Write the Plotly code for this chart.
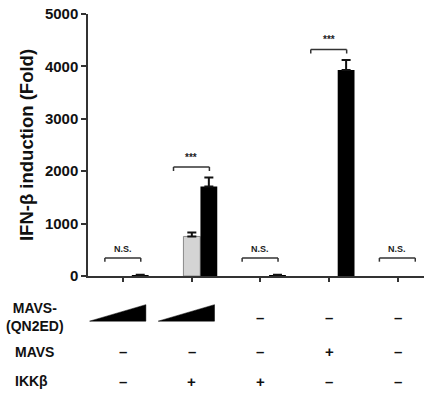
import plotly.graph_objects as go

groups = [0, 1, 2, 3, 4]
gray_vals = [None, 755, None, None, None]
gray_err = [0, 75, 0, 0, 0]
black_vals = [8, 1708, 8, 3932, None]
black_err = [14, 172, 14, 190, 0]
sig_labels = ["N.S.", "***", "N.S.", "***", "N.S."]
mavs_signs = ["–", "–", "–", "+", "–"]
ikk_signs = ["–", "+", "+", "–", "–"]
qn2ed_signs = [None, None, "–", "–", "–"]  # None = wedge
y_ticks = [0, 1000, 2000, 3000, 4000, 5000]

FONT = "Arial, Liberation Sans, Helvetica, sans-serif"
OFF = 0.248
W = 0.245

fig = go.Figure()
fig.add_bar(
    x=groups, y=gray_vals, width=W,
    marker=dict(color="#d4d4d4", line=dict(color="#8a8a8a", width=1)),
    error_y=dict(type="data", symmetric=False, array=gray_err,
                 arrayminus=[0] * 5, color="#111", thickness=2, width=4.5),
    showlegend=False,
)
fig.add_bar(
    x=[g + OFF for g in groups], y=black_vals, width=W,
    marker=dict(color="#000000", line=dict(width=0)),
    error_y=dict(type="data", symmetric=False, array=black_err,
                 arrayminus=[0] * 5, color="#111", thickness=2, width=4.5),
    showlegend=False,
)

shapes = []
annotations = []
for g, lab, gv, ge, bv, be in zip(groups, sig_labels, gray_vals, gray_err,
                                  black_vals, black_err):
    top = max((gv or 0) + ge, (bv or 0) + be)
    yb = 343 if lab == "N.S." else top + 200
    drop = 70 if lab == "N.S." else 76
    x0, x1 = g - 0.267, g + 0.256
    xs = [x0, x0, x1, x1]
    ys = [yb - drop, yb, yb, yb - drop]
    shapes += [
        dict(type="line", xref="x", yref="y", x0=xs[i], x1=xs[i + 1],
             y0=ys[i], y1=ys[i + 1], line=dict(color="#333", width=1.5))
        for i in range(3)
    ]
    annotations.append(dict(
        x=(x0 + x1) / 2, y=yb + 40, xref="x", yref="y", text=lab,
        showarrow=False, yanchor="bottom", xanchor="center",
        font=dict(family=FONT, size=9 if lab == "N.S." else 10,
                  color="#222", weight="bold"),
    ))


def ypx(px):
    return (276.3 - px) / 262.3


def xp(px):
    return (px - 88) / 336


sign_font = dict(family=FONT, size=15, color="#111", weight="bold")


def sign(x, ypix, s):
    return dict(x=x, y=ypx(ypix), xref="x", yref="paper", text=s,
                showarrow=False, xanchor="center", yanchor="middle",
                font=sign_font)


for g, s in zip(groups, qn2ed_signs):
    if s is None:
        shapes.append(dict(
            type="path", xref="x", yref="paper",
            path=(f"M {g - 0.49} {ypx(321.5)} L {g + 0.33} {ypx(321.5)} "
                  f"L {g + 0.33} {ypx(305)} Z"),
            fillcolor="#000", line=dict(color="#000", width=0.5)))
    else:
        annotations.append(sign(g, 317.5, s))
for g, s in zip(groups, mavs_signs):
    annotations.append(sign(g, 352, s))
for g, s in zip(groups, ikk_signs):
    annotations.append(sign(g, 381.5, s))

lab_font = dict(family=FONT, size=14, color="#111", weight="bold")
annotations += [
    dict(x=xp(35), y=ypx(317.5), xref="paper", yref="paper",
         text="MAVS-<br>(QN2ED)", showarrow=False, xanchor="center",
         yanchor="middle", font=lab_font, align="center"),
    dict(x=xp(13), y=ypx(352), xref="paper", yref="paper", xanchor="left",
         yanchor="middle", text="MAVS", showarrow=False, font=lab_font),
    dict(x=xp(13), y=ypx(381), xref="paper", yref="paper", xanchor="left",
         yanchor="middle", text="IKKβ", showarrow=False, font=lab_font),
]

fig.update_layout(
    width=424, height=396,
    margin=dict(l=88, r=0, t=14, b=120, autoexpand=False),
    paper_bgcolor="white", plot_bgcolor="white",
    barmode="overlay",
    shapes=shapes, annotations=annotations,
    xaxis=dict(range=[-0.513, 4.383], tickvals=groups, ticktext=[""] * 5,
               ticks="outside", ticklen=4, tickwidth=1.5, tickcolor="#333",
               showline=True, linecolor="#333", linewidth=1.5,
               showgrid=False, zeroline=False, fixedrange=True),
    yaxis=dict(range=[0, 5000], tickvals=y_ticks,
               ticks="outside", ticklen=5, tickwidth=1.5, tickcolor="#333",
               showline=True, linecolor="#333", linewidth=1.5,
               showgrid=False, zeroline=False,
               tickfont=dict(family=FONT, size=15, color="#111",
                             weight="bold"),
               title=dict(text="IFN-β induction (Fold)", standoff=6,
                          font=dict(family=FONT, size=18.5, color="#111",
                                    weight="bold"))),
)

fig.write_html("out.html", config={"displayModeBar": False},
               post_script="document.body.style.margin='0';"
                           "document.body.style.overflow='hidden';")
